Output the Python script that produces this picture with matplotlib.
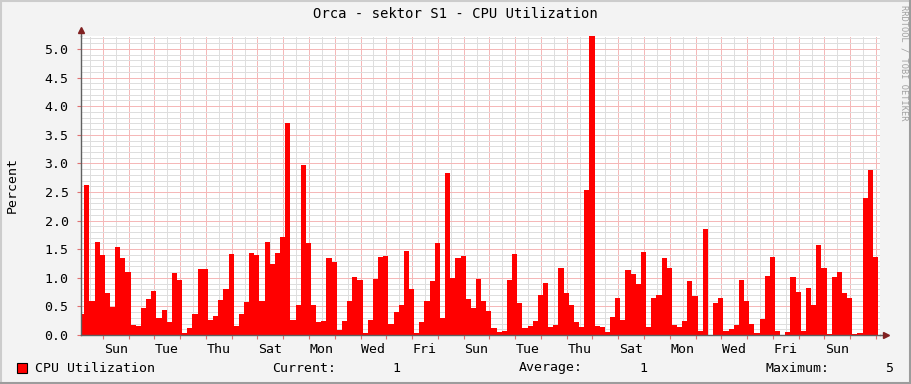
import numpy as np
import matplotlib
matplotlib.use('Agg')
import matplotlib.pyplot as plt
from matplotlib.lines import Line2D

# CPU utilisation samples, one every 4.8 hours
cpu = [0.36, 2.62, 0.59, 1.62, 1.40, 0.73, 0.49, 1.54, 1.35, 1.10,
       0.17, 0.16, 0.48, 0.63, 0.77, 0.30, 0.44, 0.23, 1.08, 0.96,
       0.04, 0.12, 0.36, 1.15, 1.15, 0.27, 0.33, 0.61, 0.80, 1.42,
       0.16, 0.37, 0.57, 1.43, 1.40, 0.59, 1.63, 1.24, 1.43, 1.71,
       3.71, 0.27, 0.52, 2.97, 1.61, 0.52, 0.22, 0.25, 1.35, 1.28,
       0.09, 0.25, 0.59, 1.01, 0.96, 0.04, 0.26, 0.98, 1.36, 1.38,
       0.20, 0.40, 0.52, 1.47, 0.80, 0.04, 0.23, 0.59, 0.94, 1.61,
       0.30, 2.83, 1.00, 1.35, 1.38, 0.63, 0.47, 0.98, 0.59, 0.42,
       0.12, 0.06, 0.07, 0.96, 1.42, 0.56, 0.12, 0.16, 0.24, 0.70,
       0.91, 0.14, 0.17, 1.17, 0.73, 0.52, 0.23, 0.14, 2.53, 5.23,
       0.16, 0.14, 0.05, 0.31, 0.65, 0.26, 1.14, 1.07, 0.89, 1.45,
       0.14, 0.65, 0.70, 1.35, 1.17, 0.17, 0.14, 0.24, 0.94, 0.68,
       0.07, 1.85, 0.00, 0.56, 0.65, 0.07, 0.10, 0.17, 0.96, 0.59,
       0.19, 0.03, 0.28, 1.03, 1.36, 0.07, 0.00, 0.05, 1.01, 0.75,
       0.07, 0.82, 0.52, 1.57, 1.17, 0.02, 1.01, 1.10, 0.73, 0.65,
       0.02, 0.03, 2.40, 2.88, 1.36]

first_sample = -0.92   # days relative to the first Sunday 00:00
step = 0.2             # days per sample
day_labels = ['Sun', 'Tue', 'Thu', 'Sat', 'Mon', 'Wed', 'Fri', 'Sun',
              'Tue', 'Thu', 'Sat', 'Mon', 'Wed', 'Fri', 'Sun']
x_start, x_end = -0.845, 30.155
y_top = 5.227

title = 'Orca - sektor S1 - CPU Utilization'
legend_name = 'CPU Utilization'
cur_val, avg_val, max_val = '1', '1', '5'

W, H = 911, 384
mono = 'DejaVu Sans Mono'
plt.rcParams['font.family'] = mono

fig = plt.figure(figsize=(W / 100, H / 100), dpi=100, facecolor='#f3f3f3')
ax = fig.add_axes([81 / W, 1 - 335 / H, (880 - 81) / W, (335 - 36) / H])
ax.set_facecolor('white')

x = first_sample + step * np.arange(len(cpu))
ax.bar(x, cpu, width=step, align='edge', color='#ff0000', linewidth=0, zorder=2)

ax.set_xlim(x_start, x_end)
ax.set_ylim(0, y_top)

# dotted grid, behind the area
dot = (0, (1, 1))
major_c, minor_c = '#f5b8b8', '#dedede'
for d in np.arange(-0.5, x_end, 0.5):
    c = major_c if d == int(d) else minor_c
    ax.axvline(d, color=c, lw=0.72, ls=dot, zorder=1, antialiased=False)
for v in np.arange(0.1, 5.25, 0.1):
    c = major_c if abs(v * 2 - round(v * 2)) < 1e-6 else minor_c
    ax.axhline(v, color=c, lw=0.72, ls=dot, zorder=1, antialiased=False)

ax.set_xticks(np.arange(len(day_labels)) * 2 + 0.5, day_labels)
ax.set_xticks(np.arange(0, 31), minor=True)
ax.tick_params(axis='x', which='major', length=0, pad=6, labelsize=9.5, colors='black')
ax.tick_params(axis='x', which='minor', length=3, width=0.8, color='#e07070', direction='out')
ax.set_yticks(np.arange(0, 5.01, 0.5), [f'{v:.1f}' for v in np.arange(0, 5.01, 0.5)])
ax.tick_params(axis='y', which='major', length=3, width=0.8, color='#e07070', pad=6,
               labelsize=9.5, labelcolor='black')

for s in ['top', 'right']:
    ax.spines[s].set_visible(False)
for s in ['left', 'bottom']:
    ax.spines[s].set_color('#606060')
    ax.spines[s].set_linewidth(1)
    ax.spines[s].set_zorder(4)

# axis arrows
ax.plot([1.0, 1.008], [0, 0], transform=ax.transAxes, color='#606060', lw=1, clip_on=False)
ax.plot([0, 0], [1.0, 1.015], transform=ax.transAxes, color='#606060', lw=1, clip_on=False)
ax.plot(1.008, 0, marker='>', ms=5, color='#802020', transform=ax.transAxes, clip_on=False)
ax.plot(0, 1.02, marker='^', ms=5, color='#802020', transform=ax.transAxes, clip_on=False)

fig.text(455 / W, 1 - 14 / H, title, ha='center', va='center', fontsize=10)
fig.text(12 / W, 1 - 185 / H, 'Percent', rotation=90, ha='center', va='center', fontsize=9.5)
fig.text(904 / W, 1 - 5 / H, 'RRDTOOL / TOBI OETIKER', rotation=270, ha='center', va='top',
         fontsize=6.2, color='#a0a0a0')

# legend line
ly = 1 - 368 / H
fig.patches.append(plt.Rectangle((17 / W, 1 - 373 / H), 10 / W, 10 / H, transform=fig.transFigure,
                                 facecolor='#ff0000', edgecolor='black', lw=0.8))
fig.text(35 / W, ly, legend_name, ha='left', va='center', fontsize=9.5)
fig.text(272 / W, ly, 'Current:', ha='left', va='center', fontsize=9.5)
fig.text(400 / W, ly, cur_val, ha='right', va='center', fontsize=9.5)
fig.text(519 / W, ly, 'Average:', ha='left', va='center', fontsize=9.5)
fig.text(647 / W, ly, avg_val, ha='right', va='center', fontsize=9.5)
fig.text(765 / W, ly, 'Maximum:', ha='left', va='center', fontsize=9.5)
fig.text(893 / W, ly, max_val, ha='right', va='center', fontsize=9.5)

# 3d style frame
fig.lines.append(Line2D([0, 1], [1 - 1 / H, 1 - 1 / H], transform=fig.transFigure, color='#cccccc', lw=1.5))
fig.lines.append(Line2D([1 / W, 1 / W], [0, 1], transform=fig.transFigure, color='#cccccc', lw=1.5))
fig.lines.append(Line2D([0, 1], [1 / H, 1 / H], transform=fig.transFigure, color='#9c9c9c', lw=1.5))
fig.lines.append(Line2D([1 - 1 / W, 1 - 1 / W], [0, 1], transform=fig.transFigure, color='#9c9c9c', lw=1.5))

fig.savefig('out.png', dpi=100, facecolor=fig.get_facecolor())
